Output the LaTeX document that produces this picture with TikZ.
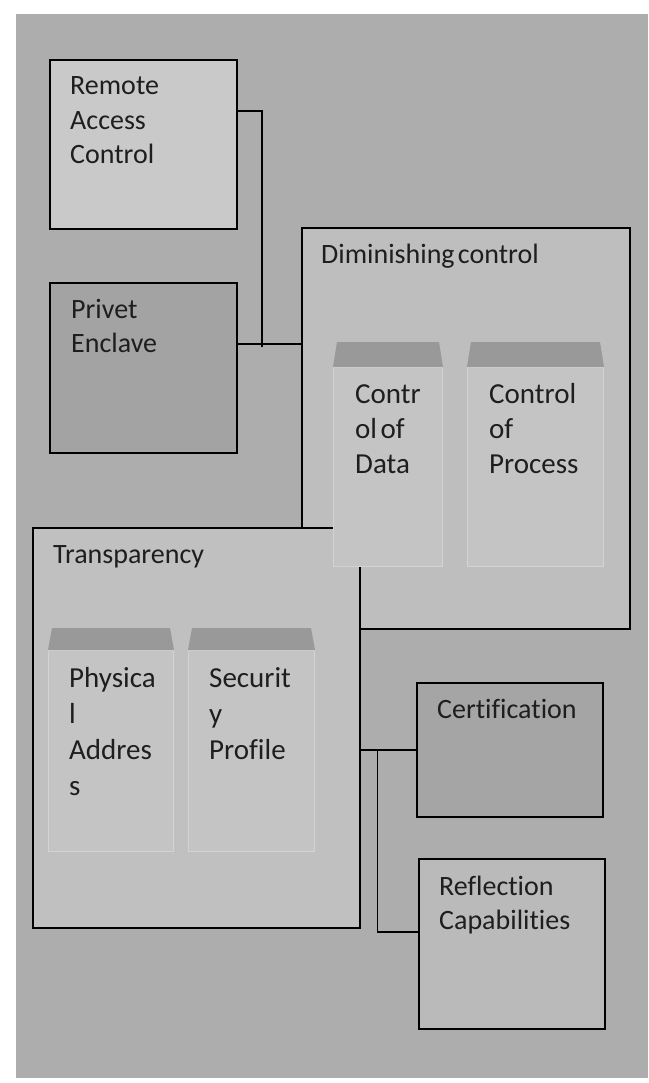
\documentclass[tikz,border=0pt]{standalone}
\usepackage{fontspec}
\setmainfont{Carlito}[Ligatures=NoCommon]
\definecolor{pagebg}{HTML}{ADADAD}
\definecolor{remotefill}{HTML}{C9C9C9}
\definecolor{privetfill}{HTML}{A3A3A3}
\definecolor{dimfill}{HTML}{BEBEBE}
\definecolor{transfill}{HTML}{C0C0C0}
\definecolor{certfill}{HTML}{A5A5A5}
\definecolor{reflfill}{HTML}{BABABA}
\definecolor{tabtopfill}{HTML}{999999}
\definecolor{tabbodyfill}{HTML}{C4C4C4}
\definecolor{tabedge}{HTML}{D3D3D3}
\definecolor{inktext}{HTML}{1E1E1E}
\tikzset{
    box/.style={draw=black, line width=1.6pt, rectangle, anchor=north west, inner sep=0pt},
    folderbody/.style={draw=tabedge, fill=tabbodyfill, line width=1pt, rectangle, anchor=north west, inner sep=0pt},
    tabtop/.style={fill=tabtopfill},
    lbl/.style={anchor=base west, inner sep=0pt, align=left, text=inktext, font=\fontsize{28}{34.5}\selectfont},
    link/.style={draw=black, line width=1.6pt}
}
\begin{document}
\begin{tikzpicture}[x=1pt,y=-1pt]
        \useasboundingbox (0,0) rectangle (648,1083);
        \fill[white] (0,0) rectangle (648,1083);
        \fill[pagebg] (16,14) rectangle (648,1078);
        % left column (labels sit on the baseline of their last line)
        \node[box, fill=remotefill, minimum width=187pt, minimum height=169pt] (remote) at (49,59) {};
        \node[box, fill=privetfill, minimum width=187pt, minimum height=170pt] (privet) at (49,282) {};
        \node[lbl] (remotetext) at (70,164) {Remote\\Access\\Control};
        \node[lbl] (privettext) at (71,352.5) {Privet\\Enclave};
        % diminishing control
        \node[box, fill=dimfill, minimum width=328pt, minimum height=401pt] (dim) at (301,227) {};
        \node[lbl] (dimtext) at (321,263) {Diminishing\hspace{-3pt} control};
        \coordinate (rj) at (262,347);
        \draw[link] ([yshift=-52pt]remote.north east) -| (rj);
        \draw[link] ([yshift=24pt]privet.east) -- ([yshift=24pt]privet.east -| dim.west);
        % transparency
        \node[box, fill=transfill, minimum width=327pt, minimum height=400pt] (trans) at (32,527) {};
        \node[lbl] (transtext) at (53,563) {Transparency};
        % folders
        \node[folderbody, minimum width=109pt, minimum height=199pt] (data) at (333,367) {};
        \fill[tabtop] (data.north west) -- ++(4,-25) -- ([shift={(-4pt,25pt)}]data.north east) -- (data.north east) -- cycle;
        \node[folderbody, minimum width=136pt, minimum height=199pt] (process) at (467,367) {};
        \fill[tabtop] (process.north west) -- ++(4,-25) -- ([shift={(-4pt,25pt)}]process.north east) -- (process.north east) -- cycle;
        \node[folderbody, minimum width=125pt, minimum height=201pt] (phys) at (48,650) {};
        \fill[tabtop] (phys.north west) -- ++(4,-22) -- ([shift={(-4pt,22pt)}]phys.north east) -- (phys.north east) -- cycle;
        \node[folderbody, minimum width=126pt, minimum height=201pt] (sec) at (188,650) {};
        \fill[tabtop] (sec.north west) -- ++(4,-22) -- ([shift={(-4pt,22pt)}]sec.north east) -- (sec.north east) -- cycle;
        \node[lbl, font=\fontsize{29}{35}\selectfont] (datatext) at (355,473) {Contr\\ol\hspace{-3pt} of\\Data};
        \node[lbl, font=\fontsize{29}{35}\selectfont] (processtext) at (489,473) {Control\\of\\Process};
        \node[lbl, font=\fontsize{29}{36}\selectfont] (physicatext) at (69,795) {Physica\\l\\Addres\\s};
        \node[lbl, font=\fontsize{29}{36}\selectfont] (securitext) at (209,759) {Securit\\y\\Profile};
        % right column
        \node[box, fill=certfill, minimum width=186pt, minimum height=134pt] (cert) at (416,682) {};
        \node[box, fill=reflfill, minimum width=186pt, minimum height=170pt] (refl) at (418,858) {};
        \node[lbl] (certtext) at (437,718) {Certification};
        \node[lbl] (refltext) at (439,929.5) {Reflection\\Capabilities};
        \draw[link] (cert.west) -- (cert.west -| trans.east);
        \draw[link] ([xshift=17pt]trans.east |- cert.west) |- ([yshift=12pt]refl.west);
    \end{tikzpicture}
\end{document}
